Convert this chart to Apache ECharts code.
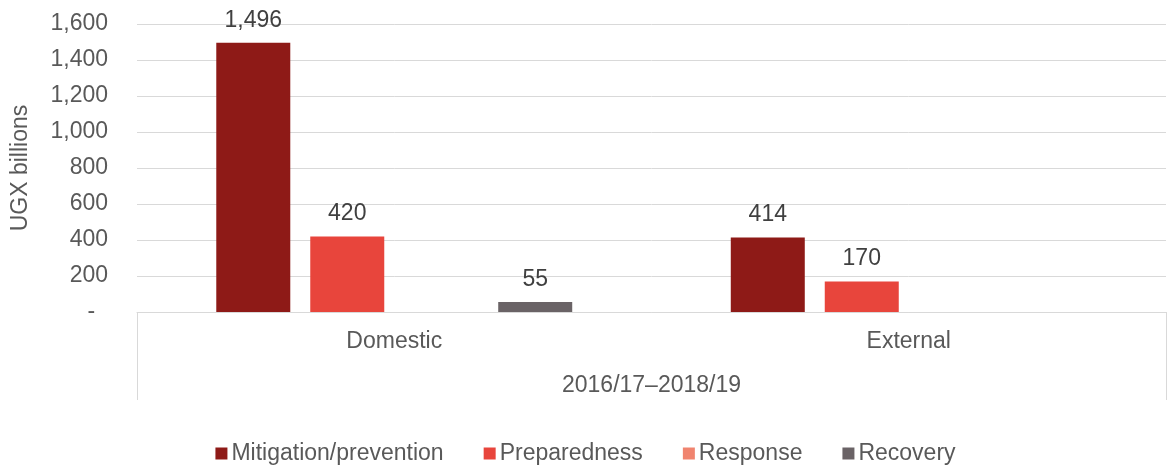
<!DOCTYPE html>
<html>
<head>
<meta charset="utf-8">
<script src="https://cdn.jsdelivr.net/npm/echarts@6/dist/echarts.min.js"></script>
<style>
  html, body { margin: 0; padding: 0; background: #ffffff; }
  #chart { width: 1171px; height: 465px; }
</style>
</head>
<body>
<div id="chart"></div>
<script>
// Disaster-risk spending by source and phase, UGX billions
const categories = ['Domestic', 'External'];
const period = ['2016/17–2018/19'];
const seriesNames = ['Mitigation/prevention', 'Preparedness', 'Response', 'Recovery'];
const mitigation = [1496, 414];
const preparedness = [420, 170];
const response = [null, null];
const recovery = [55, null];
const yTicks = { min: 0, max: 1600, interval: 200 };

const colors = ['#8E1A17', '#E8453C', '#F0846F', '#6A6366'];
const FONT = 'Arial, "Liberation Sans", sans-serif';
const FS = 23;
const TEXT = '#595959';
const LINE = '#D9D9D9';

const values = [mitigation, preparedness, response, recovery];

const chart = echarts.init(document.getElementById('chart'), null, { renderer: 'canvas' });

chart.setOption({
  animation: false,
  color: colors,
  textStyle: { fontFamily: FONT },
  grid: {
    left: 137, right: 5, top: 24, bottom: 153,
    containLabel: false,
    outerBoundsMode: 'none'
  },
  legend: {
    top: 437,
    left: 'center',
    itemWidth: 12,
    itemHeight: 12,
    itemGap: 40,
    icon: 'rect',
    textStyle: { fontFamily: FONT, fontSize: FS, color: TEXT, padding: [0, 0, 0, -1] },
    data: seriesNames
  },
  xAxis: [
    {
      type: 'category',
      data: categories,
      axisLine: { show: true, lineStyle: { color: LINE, width: 1 } },
      axisTick: { show: false },
      axisLabel: { margin: 18, fontFamily: FONT, fontSize: FS, color: TEXT }
    },
    {
      type: 'category',
      position: 'bottom',
      data: period,
      axisLine: { show: false },
      axisTick: { show: true, length: 88, interval: 0, lineStyle: { color: LINE, width: 1 } },
      axisLabel: { margin: 62, fontFamily: FONT, fontSize: FS, color: TEXT }
    }
  ],
  yAxis: {
    type: 'value',
    min: yTicks.min,
    max: yTicks.max,
    interval: yTicks.interval,
    name: 'UGX billions',
    nameLocation: 'middle',
    nameRotate: 90,
    nameGap: 105,
    nameTextStyle: { fontFamily: FONT, fontSize: FS, color: TEXT },
    axisLine: { show: false },
    axisTick: { show: false },
    splitLine: { lineStyle: { color: LINE, width: 1 } },
    axisLabel: {
      margin: 29,
      fontFamily: FONT,
      fontSize: FS,
      color: TEXT,
      formatter: v => v === 0 ? '-  ' : v.toLocaleString('en-US')
    }
  },
  series: seriesNames.map((name, i) => ({
    name: name,
    type: 'bar',
    xAxisIndex: 0,
    data: values[i],
    barWidth: 74,
    barGap: '27%',
    itemStyle: { color: colors[i] },
    label: {
      show: true,
      position: 'top',
      distance: 11,
      fontFamily: FONT,
      fontSize: FS,
      color: '#404040',
      formatter: p => (p.value == null ? '' : Number(p.value).toLocaleString('en-US'))
    }
  }))
});
</script>
</body>
</html>
